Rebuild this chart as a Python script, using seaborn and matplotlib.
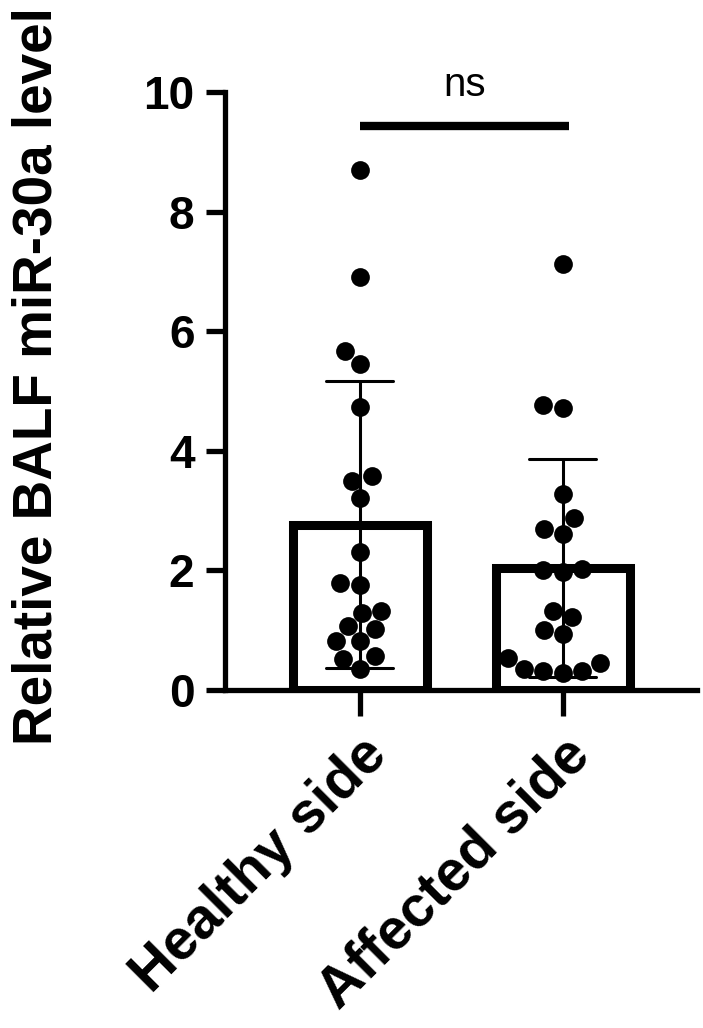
import pandas as pd
import seaborn as sns
import matplotlib.pyplot as plt

groups = ["Healthy side", "Affected side"]

healthy = [8.70, 6.90, 5.66, 5.45, 4.73, 3.57, 3.50, 3.21, 2.31, 1.76,
           1.78, 1.31, 1.28, 1.06, 1.01, 0.81, 0.81, 0.56, 0.52, 0.35]
affected = [7.12, 4.77, 4.71, 3.28, 2.87, 2.69, 2.61, 2.00, 1.97, 2.02,
            1.31, 1.21, 1.00, 0.93, 0.53, 0.44, 0.35, 0.32, 0.32, 0.28]

y_ticks = [0, 2, 4, 6, 8, 10]
y_label = "Relative BALF miR-30a level"
sig_text = "ns"

df = pd.DataFrame({
    "group": [groups[0]] * len(healthy) + [groups[1]] * len(affected),
    "value": healthy + affected,
})

sns.set_style("ticks")
plt.rcParams["font.family"] = ["Liberation Sans", "DejaVu Sans"]
plt.rcParams.update({
    "text.color": "black", "axes.labelcolor": "black",
    "axes.edgecolor": "black", "xtick.color": "black", "ytick.color": "black",
})

fig, ax = plt.subplots(figsize=(7.03, 10.28), dpi=100)
fig.subplots_adjust(left=0.32, right=0.991, top=0.9105, bottom=0.329)

sns.barplot(data=df, x="group", y="value", order=groups, ax=ax,
            color="white", edgecolor="black", linewidth=6.5, width=0.66,
            errorbar="sd", capsize=0.33,
            err_kws={"color": "black", "linewidth": 2.2})
sns.swarmplot(data=df, x="group", y="value", order=groups, ax=ax,
              color="black", size=13.5, zorder=5)

ax.set_xlim(-0.665, 1.66)
ax.set_ylim(0, 10)
ax.set_yticks(y_ticks)
ax.set_xlabel("")
ax.set_ylabel(y_label, fontsize=39.5, fontweight="bold")
ax.yaxis.set_label_coords(-0.342, 0.525)

sns.despine(ax=ax)
for side in ["left", "bottom"]:
    ax.spines[side].set_linewidth(3.8)
ax.tick_params(axis="y", width=3.8, length=14, labelsize=33, pad=8)
ax.tick_params(axis="x", width=3.8, length=19, labelsize=41, pad=8)
for lbl in ax.get_yticklabels():
    lbl.set_fontweight("bold")
for lbl in ax.get_xticklabels():
    lbl.set_fontweight("bold")
    lbl.set_rotation(45)
    lbl.set_ha("right")
    lbl.set_rotation_mode("anchor")

# significance bar
ax.plot([0, 1.03], [9.43, 9.43], color="black", linewidth=6, clip_on=False,
        solid_capstyle="butt")
ax.text(0.515, 9.8, sig_text, ha="center", va="bottom", fontsize=29,
        clip_on=False)

plt.savefig("out.png", dpi=100)
